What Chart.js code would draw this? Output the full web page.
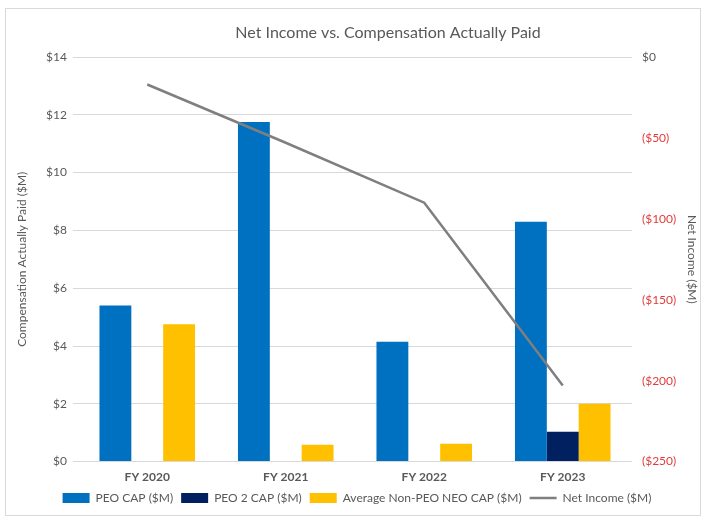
<!DOCTYPE html>
<html>
<head>
<meta charset="utf-8">
<script src="https://cdn.jsdelivr.net/npm/chart.js@4"></script>
<style>
  body { margin:0; background:#fff; }
  #wrap { position:relative; width:705px; height:526px; }
  #frame { position:absolute; left:5px; top:8px; width:694px; height:506px; border:1px solid #d9d9d9; }
  canvas { position:absolute; left:0; top:0; }
</style>
</head>
<body>
<div id="wrap">
  <div id="frame"></div>
  <canvas id="capChart" width="705" height="526"></canvas>
</div>
<script>
// data
const categories = ['FY 2020','FY 2021','FY 2022','FY 2023'];
const peoCap = [5.4, 11.75, 4.15, 8.3];
const peo2Cap = [null, null, null, 1.03];
const neoCap = [4.75, 0.58, 0.62, 2.0];
const netIncome = [-17, -53, -90, -203];

const leftTicks = [0, 2, 4, 6, 8, 10, 12, 14];
const rightTicks = [0, -50, -100, -150, -200, -250];

const grey = '#595959';
const font = 'Lato, "Open Sans", sans-serif';

// title drawn a bit to the right, like the original
const titlePlugin = {
  id: 'sideTitle',
  afterDraw(chart){
    const c = chart.ctx;
    c.save();
    c.font = '16px ' + font;
    c.fillStyle = grey;
    c.textAlign = 'center';
    c.textBaseline = 'middle';
    c.fillText('Net Income vs. Compensation Actually Paid', 388, 33);
    c.restore();
  }
};

new Chart(document.getElementById('capChart'), {
  data: {
    labels: categories,
    datasets: [
      { type:'bar', label:'PEO CAP ($M)', data:peoCap, backgroundColor:'#0070c0', yAxisID:'y', pointStyle:'rect', order:2 },
      { type:'bar', label:'PEO 2 CAP ($M)', data:peo2Cap, backgroundColor:'#002060', yAxisID:'y', pointStyle:'rect', order:2 },
      { type:'bar', label:'Average Non-PEO NEO CAP ($M)', data:neoCap, backgroundColor:'#ffc000', yAxisID:'y', pointStyle:'rect', order:2 },
      { type:'line', label:'Net Income ($M)', data:netIncome, borderColor:'#7f7f7f', backgroundColor:'#7f7f7f',
        borderWidth:2.5, pointRadius:0, yAxisID:'y1', pointStyle:'line', order:1 }
    ]
  },
  options: {
    responsive:false,
    animation:false,
    layout:{ padding:{ left:11, right:2, top:57, bottom:12 } },
    datasets:{ bar:{ categoryPercentage:0.69, barPercentage:1, borderWidth:0 } },
    plugins:{
      legend:{
        position:'bottom',
        labels:{ usePointStyle:true, pointStyleWidth:27, boxHeight:10, color:grey, padding:8,
                 font:{ family:font, size:12 },
                 sort:(a, b) => a.datasetIndex - b.datasetIndex }
      },
      tooltip:{ enabled:false }
    },
    scales:{
      x:{
        grid:{ display:false },
        border:{ display:false },
        ticks:{ color:grey, padding:0, font:{ family:font, size:12, weight:'bold' } }
      },
      y:{
        position:'left',
        min:0, max:14,
        afterBuildTicks(s){ s.ticks = leftTicks.map(v => ({ value:v })); },
        afterFit(s){ s.width = 67; },
        grid:{ color:'#d9d9d9', tickLength:5 },
        border:{ display:false },
        ticks:{ color:grey, padding:6, callback:v => '$' + v, font:{ family:font, size:12 } },
        title:{ display:true, text:'Compensation Actually Paid ($M)', color:grey, font:{ family:font, size:12 } }
      },
      y1:{
        position:'right',
        min:-250, max:0,
        afterBuildTicks(s){ s.ticks = rightTicks.map(v => ({ value:v })); },
        afterFit(s){ s.width = 71; },
        grid:{ drawOnChartArea:false, drawTicks:false },
        border:{ display:false },
        ticks:{
          padding:10,
          color:ctx => ctx.tick.value < 0 ? '#e03c3c' : grey,
          callback:v => v < 0 ? '($' + Math.abs(v) + ')' : '$' + v,
          font:{ family:font, size:12 }
        },
        title:{ display:true, text:'Net Income ($M)', color:grey, font:{ family:font, size:12 } }
      }
    }
  },
  plugins:[titlePlugin]
});
</script>
</body>
</html>
